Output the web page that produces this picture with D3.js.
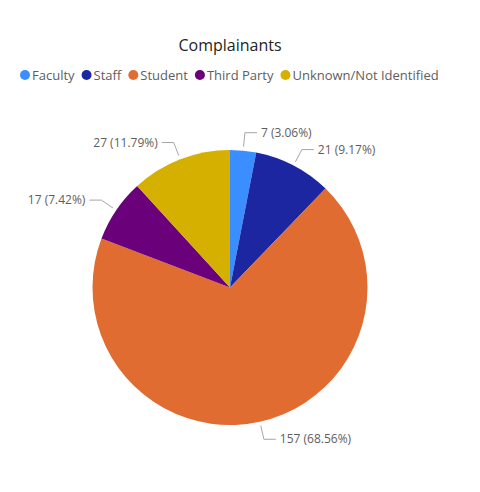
<!doctype html>
<html>
<head>
<meta charset="utf-8">
<script src="https://cdnjs.cloudflare.com/ajax/libs/d3/7.8.5/d3.min.js"></script>
<style>
  body { margin: 0; background: #fff; }
  svg { font-family: "Open Sans", "Noto Sans", sans-serif; }
</style>
</head>
<body>
<svg id="chart" width="480" height="492"></svg>
<script>
  // data
  var categories = ["Faculty", "Staff", "Student", "Third Party", "Unknown/Not Identified"];
  var counts = [7, 21, 157, 17, 27];
  var colors = ["#3a8eff", "#1c26a0", "#e06c32", "#6a007a", "#d6b000"];

  var svg = d3.select("#chart");
  var cx = 230, cy = 287.5, radius = 137.5;
  var total = d3.sum(counts);

  // title
  svg.append("text")
    .attr("x", 230).attr("y", 51)
    .attr("text-anchor", "middle")
    .style("font-size", "16px")
    .style("fill", "#252423")
    .text("Complainants");

  // legend
  var legend = svg.append("g").attr("transform", "translate(20,75)");
  var lx = 0;
  categories.forEach(function(c, i) {
    var item = legend.append("g").attr("transform", "translate(" + lx + ",0)");
    item.append("circle").attr("cx", 5).attr("cy", 0).attr("r", 5).style("fill", colors[i]);
    var t = item.append("text")
      .attr("x", 12).attr("y", 0).attr("dy", "0.35em")
      .style("font-size", "13px")
      .style("fill", "#605e5c")
      .text(c);
    lx += 12 + t.node().getComputedTextLength() + 7;
  });

  var pie = d3.pie().sort(null).value(function(d) { return d; });
  var arc = d3.arc().innerRadius(0).outerRadius(radius);
  var arcs = pie(counts);

  var g = svg.append("g").attr("transform", "translate(" + cx + "," + cy + ")");
  g.selectAll("path.slice")
    .data(arcs)
    .enter()
    .append("path")
    .attr("class", "slice")
    .attr("d", arc)
    .style("fill", function(d, i) { return colors[i]; });

  // leader lines + labels
  var fmt = d3.format(".2f");
  arcs.forEach(function(d) {
    var a = (d.startAngle + d.endAngle) / 2;
    var s = Math.sin(a), c = -Math.cos(a);
    var p1 = [ (radius + 4) * s, (radius + 4) * c ];
    var p2 = [ (radius + 18) * s, (radius + 18) * c ];
    var dir = s >= 0 ? 1 : -1;
    var p3 = [ p2[0] + dir * 12, p2[1] ];
    g.append("polyline")
      .attr("points", [p1, p2, p3].map(function(p) { return p.join(","); }).join(" "))
      .style("fill", "none")
      .style("stroke", "#a6a6a6")
      .style("stroke-width", 1);
    g.append("text")
      .attr("x", p3[0] + dir * 4)
      .attr("y", p3[1])
      .attr("dy", "0.35em")
      .attr("text-anchor", dir > 0 ? "start" : "end")
      .style("font-size", "12px")
      .style("fill", "#605e5c")
      .text(d.data + " (" + fmt(d.data / total * 100) + "%)");
  });
</script>
</body>
</html>
